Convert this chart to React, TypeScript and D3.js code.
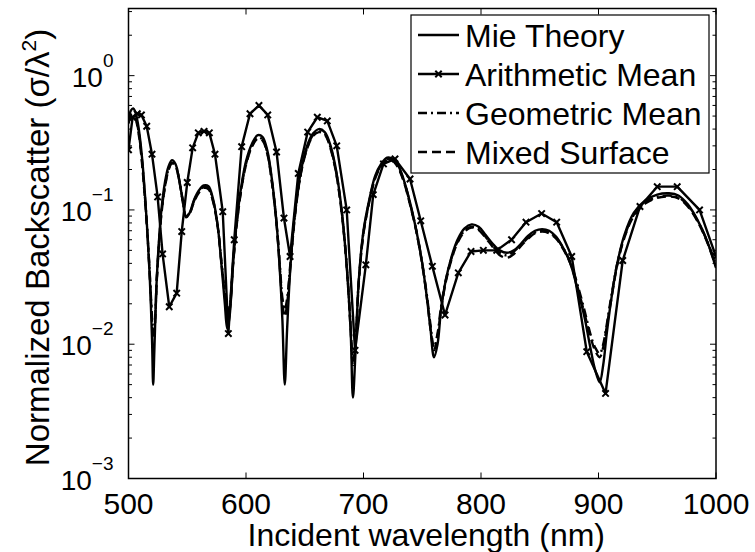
import React from "react";
import * as d3 from "d3";

// ---------- data ----------
const mieLambda = [
  500,502,504,506,508,510,512,514,516,518,
  520,521,522,524,526,528,531,534,537,540,
  543,546,549,552,556,560,564,568,572,576,
  579,582,584,586,589,592,596,600,605,610,
  614,618,622,626,629,631,633,635,638,642,
  647,652,657,662,667,672,677,682,686,689,
  691,693,696,700,705,710,715,720,725,730,
  735,740,745,750,754,757,760,763,766,770,
  775,780,786,792,798,804,810,816,822,828,
  834,840,846,852,858,864,870,876,882,888,
  893,897,901,904,907,911,916,922,930,940,
  950,960,968,976,984,992,1000];
const mieValues = [
  0.47,0.55,0.57,0.53,0.44,0.33,0.22,0.13,0.07,0.033,
  0.011,0.005,0.009,0.03,0.06,0.1,0.16,0.21,0.235,0.22,
  0.17,0.12,0.088,0.095,0.12,0.14,0.152,0.15,0.12,0.075,
  0.04,0.02,0.013,0.016,0.04,0.08,0.15,0.23,0.31,0.36,
  0.35,0.28,0.17,0.08,0.033,0.015,0.005,0.013,0.04,0.1,
  0.2,0.3,0.37,0.4,0.38,0.3,0.19,0.09,0.035,0.013,
  0.004,0.008,0.03,0.07,0.12,0.18,0.22,0.245,0.24,0.21,
  0.16,0.11,0.07,0.04,0.022,0.013,0.008,0.01,0.018,0.03,
  0.045,0.06,0.073,0.078,0.075,0.065,0.056,0.05,0.048,0.05,
  0.056,0.064,0.07,0.072,0.07,0.063,0.052,0.04,0.026,0.016,
  0.0095,0.0065,0.0052,0.007,0.012,0.022,0.04,0.065,0.095,0.118,
  0.13,0.133,0.128,0.11,0.085,0.06,0.037];
const geometricValues = [
  0.45,0.51,0.52,0.49,0.41,0.31,0.21,0.125,0.07,0.035,
  0.016,0.012,0.013,0.03,0.058,0.095,0.15,0.2,0.225,0.215,
  0.17,0.12,0.09,0.095,0.118,0.137,0.148,0.145,0.117,0.075,
  0.042,0.024,0.017,0.019,0.04,0.078,0.145,0.22,0.3,0.345,
  0.335,0.27,0.165,0.08,0.037,0.022,0.018,0.022,0.042,0.098,
  0.195,0.29,0.36,0.385,0.37,0.29,0.185,0.088,0.036,0.014,
  0.0075,0.01,0.03,0.068,0.117,0.175,0.215,0.238,0.235,0.205,
  0.158,0.108,0.07,0.04,0.023,0.014,0.0095,0.012,0.019,0.03,
  0.044,0.058,0.07,0.075,0.072,0.063,0.054,0.048,0.046,0.049,
  0.055,0.062,0.068,0.07,0.068,0.062,0.052,0.041,0.028,0.018,
  0.012,0.0095,0.0085,0.01,0.014,0.023,0.04,0.063,0.092,0.114,
  0.125,0.128,0.124,0.108,0.084,0.06,0.039];
const mixedValues = [
  0.44,0.5,0.51,0.48,0.4,0.3,0.2,0.12,0.068,0.034,
  0.015,0.011,0.012,0.029,0.056,0.093,0.147,0.197,0.222,0.212,
  0.168,0.118,0.089,0.094,0.116,0.135,0.146,0.143,0.115,0.074,
  0.041,0.023,0.016,0.018,0.039,0.076,0.142,0.216,0.295,0.34,
  0.33,0.265,0.162,0.078,0.035,0.02,0.016,0.02,0.04,0.096,
  0.192,0.285,0.355,0.38,0.365,0.285,0.182,0.086,0.035,0.013,
  0.007,0.0095,0.029,0.067,0.115,0.172,0.212,0.235,0.232,0.202,
  0.155,0.106,0.069,0.039,0.022,0.013,0.009,0.0115,0.018,0.029,
  0.043,0.057,0.069,0.074,0.071,0.062,0.053,0.046,0.044,0.047,
  0.054,0.061,0.067,0.069,0.067,0.061,0.051,0.04,0.027,0.017,
  0.0115,0.009,0.008,0.0095,0.0135,0.022,0.039,0.062,0.09,0.112,
  0.123,0.126,0.122,0.106,0.083,0.059,0.038];

const sampleLambda = [500,503.5,507.5,511,515.5,520,524.8,529,534.7,541,545.3,550,554.6,559.4,564.3,568.8,573.6,580.2,585,590,596.3,603.4,611,618.5,626,632.3,637.5,644.5,652.5,660.7,669.2,677.2,685.7,692.8,702,708.3,717,726.8,739.6,748.7,758.6,769.4,780.7,791.5,802,813.4,826,838.3,851.6,864.4,877.2,890,906,920.6,935.3,950,967,986,1000];
const arithmeticValues = [0.28,0.49,0.52,0.51,0.42,0.26,0.125,0.047,0.019,0.024,0.069,0.16,0.29,0.375,0.385,0.375,0.26,0.097,0.012,0.06,0.296,0.52,0.6,0.51,0.27,0.087,0.045,0.187,0.38,0.49,0.46,0.3,0.1,0.009,0.039,0.13,0.22,0.24,0.17,0.083,0.038,0.0165,0.034,0.049,0.05,0.05,0.06,0.081,0.094,0.081,0.045,0.0088,0.0043,0.042,0.106,0.149,0.149,0.1,0.045];

const xTicks = [500,600,700,800,900,1000];
const yDecades = [-3,-2,-1,0];
const legendLabels = ["Mie Theory","Arithmetic Mean","Geometric Mean","Mixed Surface"];

// ---------- layout ----------
const W = 755, H = 552;
const L = 128.5, R = 716, T = 8.5, B = 478.5;
const FONT = "'Liberation Sans', Arial, Helvetica, sans-serif";

export default function App() {
  const x = d3.scaleLinear().domain([500, 1000]).range([L, R]);
  const y = d3.scaleLog().domain([1e-3, Math.pow(10, 0.5)]).range([B, T]);

  const smooth = d3.line<[number, number]>()
    .x(d => x(d[0])).y(d => y(d[1])).curve(d3.curveCatmullRom.alpha(0.5));
  const straight = d3.line<[number, number]>()
    .x(d => x(d[0])).y(d => y(d[1]));

  const pair = (ls: number[], vs: number[]) =>
    ls.slice(0, Math.min(ls.length, vs.length)).map((l, i) => [l, vs[i]] as [number, number]);
  const mie = pair(mieLambda, mieValues);
  const geo = pair(mieLambda, geometricValues);
  const mix = pair(mieLambda, mixedValues);
  const ari = pair(sampleLambda, arithmeticValues);

  const minor = y.ticks().filter(v => Math.abs(Math.log10(v) - Math.round(Math.log10(v))) > 1e-6);
  const sw = 2.4;
  const ms = 3.2;

  const xMark = (cx: number, cy: number, k: string) => (
    <path key={k} d={`M${cx - ms},${cy - ms}L${cx + ms},${cy + ms}M${cx - ms},${cy + ms}L${cx + ms},${cy - ms}`}
      stroke="#000" strokeWidth={2} fill="none" />
  );

  const legX0 = 418, legX1 = 459, legText = 465;
  const rowBase = [47, 86, 125, 164];

  return (
    <div style={{ position: "fixed", left: 0, top: 0 }}>
      <svg width={W} height={H} style={{ display: "block", background: "#fff" }} fontFamily={FONT}>
        <defs>
          <clipPath id="plotclip"><rect x={L} y={T} width={R - L} height={B - T} /></clipPath>
        </defs>
        <rect x={0} y={0} width={W} height={H} fill="#fff" />
        <g clipPath="url(#plotclip)" fill="none" stroke="#000" strokeLinejoin="round">
          <path d={smooth(mix) || ""} strokeWidth={sw} strokeDasharray="9,5" />
          <path d={smooth(geo) || ""} strokeWidth={sw} strokeDasharray="9,4,2,4" />
          <path d={straight(ari) || ""} strokeWidth={sw} />
          <path d={smooth(mie) || ""} strokeWidth={sw} />
          {ari.map((d, i) => xMark(x(d[0]), y(d[1]), "m" + i))}
        </g>
        {/* axes box */}
        <rect x={L} y={T} width={R - L} height={B - T} fill="none" stroke="#000" strokeWidth={1.5} />
        {/* x ticks */}
        {xTicks.map(t => (
          <g key={"xt" + t}>
            <line x1={x(t)} x2={x(t)} y1={B} y2={B - 6} stroke="#000" strokeWidth={1} />
            <line x1={x(t)} x2={x(t)} y1={T} y2={T + 6} stroke="#000" strokeWidth={1} />
            <text x={x(t)} y={B + 35} fontSize={30} textAnchor="middle">{t}</text>
          </g>
        ))}
        {/* y ticks */}
        {yDecades.map(e => {
          const py = y(Math.pow(10, e));
          return (
            <g key={"yt" + e}>
              <line x1={L} x2={L + 6} y1={py} y2={py} stroke="#000" strokeWidth={1} />
              <line x1={R} x2={R - 6} y1={py} y2={py} stroke="#000" strokeWidth={1} />
              <text x={L - 15} y={py + 11} fontSize={28} textAnchor="end">
                <tspan>10</tspan>
                <tspan dy={-20} fontSize={19}>{e === 0 ? "0" : "\u2212" + Math.abs(e)}</tspan>
              </text>
            </g>
          );
        })}
        {minor.map((v, i) => (
          <g key={"mn" + i}>
            <line x1={L} x2={L + 3.5} y1={y(v)} y2={y(v)} stroke="#000" strokeWidth={1} />
            <line x1={R} x2={R - 3.5} y1={y(v)} y2={y(v)} stroke="#000" strokeWidth={1} />
          </g>
        ))}
        {/* axis titles */}
        <text x={(L + R) / 2 + 4} y={546} fontSize={32} textAnchor="middle">Incident wavelength (nm)</text>
        <text transform={`translate(49, ${(T + B) / 2 + 4}) rotate(-90)`} fontSize={33} textAnchor="middle">
          Normalized Backscatter (σ/λ<tspan dy={-13} fontSize={21}>2</tspan><tspan dy={13}>)</tspan>
        </text>
        {/* legend */}
        <rect x={411} y={15} width={298} height={158} fill="#fff" stroke="#000" strokeWidth={1.2} />
        {legendLabels.map((lab, i) => {
          const ly = rowBase[i] - 12;
          const dash = i === 2 ? "9,4,2,4" : i === 3 ? "9,5" : undefined;
          return (
            <g key={"lg" + i}>
              <line x1={legX0} x2={legX1} y1={ly} y2={ly} stroke="#000" strokeWidth={sw} strokeDasharray={dash} />
              {i === 1 ? xMark((legX0 + legX1) / 2, ly, "lm") : null}
              <text x={legText} y={rowBase[i]} fontSize={32}>{lab}</text>
            </g>
          );
        })}
      </svg>
    </div>
  );
}
